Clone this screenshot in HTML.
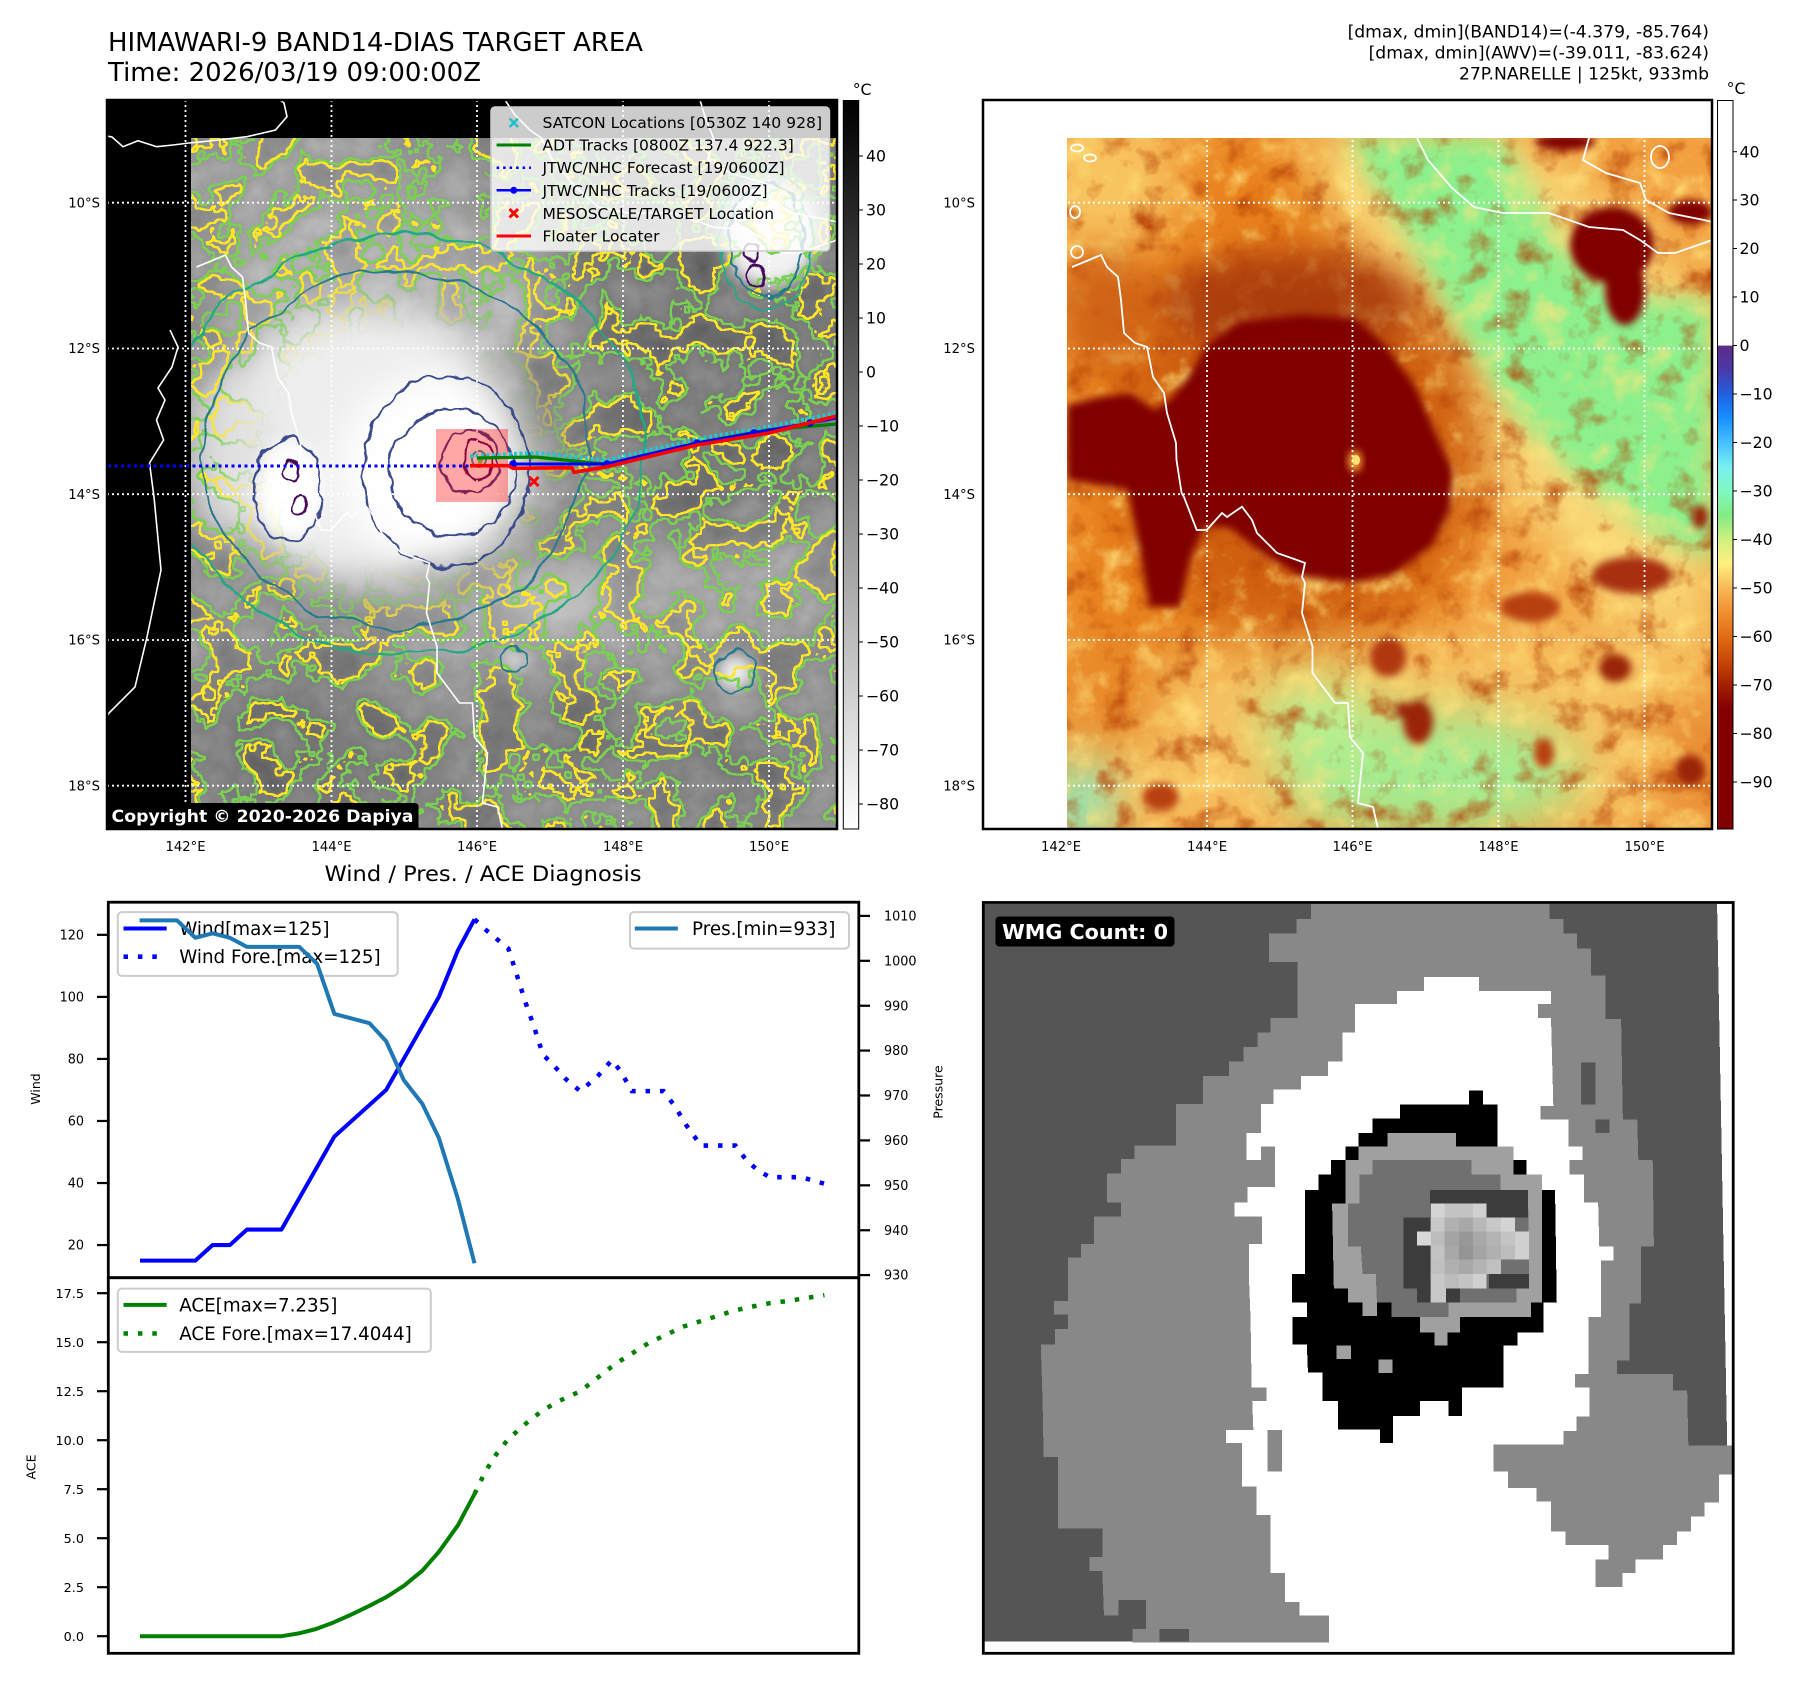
<!DOCTYPE html>
<html><head><meta charset="utf-8">
<style>
html,body{margin:0;padding:0;background:#fff;}
svg{display:block;}
text{font-family:"DejaVu Sans","Liberation Sans",sans-serif;}
</style></head><body>
<svg width="1801" height="1690" viewBox="0 0 1801 1690" xmlns="http://www.w3.org/2000/svg">
<defs>
<linearGradient id="gL" x1="0" y1="0" x2="0" y2="1"><stop offset="0" stop-color="#000"/><stop offset="1" stop-color="#fff"/></linearGradient>
<linearGradient id="gR" x1="0" y1="0" x2="0" y2="1">
<stop offset="0" stop-color="#ffffff"/><stop offset="0.336" stop-color="#ffffff"/>
<stop offset="0.3368" stop-color="#5e2a88"/><stop offset="0.37" stop-color="#4a3aa8"/>
<stop offset="0.4033" stop-color="#2060e0"/><stop offset="0.4366" stop-color="#1890ff"/>
<stop offset="0.47" stop-color="#48c0ff"/><stop offset="0.503" stop-color="#78f0f0"/>
<stop offset="0.5364" stop-color="#80f8c0"/><stop offset="0.5696" stop-color="#84ec84"/>
<stop offset="0.603" stop-color="#d0f080"/><stop offset="0.636" stop-color="#fff080"/>
<stop offset="0.669" stop-color="#f8b858"/><stop offset="0.703" stop-color="#f09030"/>
<stop offset="0.736" stop-color="#e06c14"/><stop offset="0.769" stop-color="#c84808"/>
<stop offset="0.802" stop-color="#a42000"/><stop offset="0.836" stop-color="#800000"/>
<stop offset="1" stop-color="#800000"/>
</linearGradient>
<clipPath id="cL"><rect x="107" y="100" width="730" height="729"/></clipPath>
<clipPath id="cLd"><rect x="191" y="138" width="646" height="691"/></clipPath>
<clipPath id="cR"><rect x="983" y="100" width="729" height="729"/></clipPath>
<clipPath id="cRd"><rect x="1067" y="138" width="645" height="691"/></clipPath>
<filter id="b4" x="-30%" y="-30%" width="160%" height="160%" color-interpolation-filters="sRGB"><feGaussianBlur stdDeviation="4"/></filter>
<filter id="b8" x="-30%" y="-30%" width="160%" height="160%" color-interpolation-filters="sRGB"><feGaussianBlur stdDeviation="8"/></filter>
<filter id="b12" x="-30%" y="-30%" width="160%" height="160%" color-interpolation-filters="sRGB"><feGaussianBlur stdDeviation="12"/></filter>
<filter id="b16" x="-40%" y="-40%" width="180%" height="180%" color-interpolation-filters="sRGB"><feGaussianBlur stdDeviation="16"/></filter>
<filter id="b20" x="-30%" y="-30%" width="160%" height="160%" color-interpolation-filters="sRGB"><feGaussianBlur stdDeviation="20"/></filter>
<filter id="b25" x="-30%" y="-30%" width="160%" height="160%" color-interpolation-filters="sRGB"><feGaussianBlur stdDeviation="25"/></filter>
<filter id="nz" filterUnits="userSpaceOnUse" x="191" y="138" width="646" height="691" color-interpolation-filters="sRGB">
<feTurbulence type="fractalNoise" baseFrequency="0.025" numOctaves="4" seed="11"/>
<feColorMatrix type="matrix" values="0.8 0 0 0 0.15  0.8 0 0 0 0.15  0.8 0 0 0 0.15  0 0 0 0 0.3"/>
</filter>
<filter id="cy" filterUnits="userSpaceOnUse" x="191" y="138" width="646" height="691" color-interpolation-filters="sRGB">
<feTurbulence type="fractalNoise" baseFrequency="0.025" numOctaves="4" seed="11" result="n"/>
<feColorMatrix in="n" type="matrix" values="0 0 0 0 0  0 0 0 0 0  0 0 0 0 0  1 0 0 0 0" result="a"/>
<feComponentTransfer in="a" result="th"><feFuncA type="discrete" tableValues="0 0 0 0 0 0 0 0 0 0 0 0 0 0 0 0 0 0 0 0 0 1 1 1 1 1 1 1 1 1 1 1 1 1 1 1 1 1 1 1 1 1 1 1 1 1 1 1 1 1"/></feComponentTransfer>
<feMorphology in="th" operator="dilate" radius="2" result="d"/>
<feComposite in="d" in2="th" operator="out" result="e"/>
<feFlood flood-color="#fde725"/>
<feComposite in2="e" operator="in"/>
</filter>
<filter id="cg" filterUnits="userSpaceOnUse" x="191" y="138" width="646" height="691" color-interpolation-filters="sRGB">
<feTurbulence type="fractalNoise" baseFrequency="0.025" numOctaves="4" seed="11" result="n"/>
<feColorMatrix in="n" type="matrix" values="0 0 0 0 0  0 0 0 0 0  0 0 0 0 0  1 0 0 0 0" result="a"/>
<feComponentTransfer in="a" result="th"><feFuncA type="discrete" tableValues="0 0 0 0 0 0 0 0 0 0 0 0 0 0 0 0 0 0 0 0 0 0 0 0 0 0 1 1 1 1 1 1 1 1 1 1 1 1 1 1 1 1 1 1 1 1 1 1 1 1"/></feComponentTransfer>
<feMorphology in="th" operator="dilate" radius="2" result="d"/>
<feComposite in="d" in2="th" operator="out" result="e"/>
<feFlood flood-color="#7ad151"/>
<feComposite in2="e" operator="in"/>
</filter>
<filter id="nzR" filterUnits="userSpaceOnUse" x="1067" y="138" width="645" height="691" color-interpolation-filters="sRGB">
<feTurbulence type="fractalNoise" baseFrequency="0.03" numOctaves="4" seed="5" result="n"/>
<feColorMatrix in="n" type="matrix" values="0 0 0 0 0.7  0 0 0 0 0.22  0 0 0 0 0  -2.2 0 0 0 1.0" result="dk"/>
<feColorMatrix in="n" type="matrix" values="0 0 0 0 1  0 0 0 0 0.9  0 0 0 0 0.5  2.2 0 0 0 -1.2" result="yl"/>
<feMerge><feMergeNode in="dk"/><feMergeNode in="yl"/></feMerge>
</filter>
<filter id="wig" filterUnits="userSpaceOnUse" x="100" y="90" width="760" height="760" color-interpolation-filters="sRGB">
<feTurbulence type="fractalNoise" baseFrequency="0.06" numOctaves="2" seed="4" result="t"/>
<feDisplacementMap in="SourceGraphic" in2="t" scale="12" xChannelSelector="R" yChannelSelector="G"/>
</filter>
<filter id="wig2" filterUnits="userSpaceOnUse" x="100" y="90" width="760" height="760" color-interpolation-filters="sRGB">
<feTurbulence type="fractalNoise" baseFrequency="0.02" numOctaves="3" seed="9" result="t"/>
<feDisplacementMap in="SourceGraphic" in2="t" scale="20" xChannelSelector="R" yChannelSelector="G"/>
</filter>
<mask id="mk" maskUnits="userSpaceOnUse" x="191" y="138" width="646" height="691">
<rect x="191" y="138" width="646" height="691" fill="#fff"/>
<ellipse cx="395" cy="450" rx="165" ry="155" fill="#000" filter="url(#b20)"/>
</mask>
</defs>

<rect x="0" y="0" width="1801" height="1690" fill="#fff"/>

<!-- Titles -->
<text x="108" y="51" font-size="25.8" textLength="535" lengthAdjust="spacingAndGlyphs">HIMAWARI-9 BAND14-DIAS TARGET AREA</text>
<text x="108" y="81" font-size="25.8" textLength="373" lengthAdjust="spacingAndGlyphs">Time: 2026/03/19 09:00:00Z</text>
<text x="1709" y="37.5" font-size="17.2" text-anchor="end">[dmax, dmin](BAND14)=(-4.379, -85.764)</text>
<text x="1709" y="58.5" font-size="17.2" text-anchor="end">[dmax, dmin](AWV)=(-39.011, -83.624)</text>
<text x="1709" y="79.5" font-size="17.2" text-anchor="end">27P.NARELLE | 125kt, 933mb</text>

<!-- ================= LEFT MAP ================= -->
<g clip-path="url(#cL)">
<rect x="107" y="100" width="730" height="729" fill="#000"/>
<g clip-path="url(#cLd)">
<rect x="191" y="138" width="646" height="691" fill="#8c8c8c"/>
<g filter="url(#b25)">
<ellipse cx="300" cy="190" rx="150" ry="70" fill="#a0a0a0"/>
<polygon points="590,130 850,130 850,580 700,580 610,440 570,260" fill="#6e6e6e"/>
<ellipse cx="385" cy="300" rx="170" ry="85" fill="#bebebe"/>
<polygon points="380,575 600,560 850,515 850,610 600,665 380,665" fill="#aaaaaa"/>
<ellipse cx="300" cy="748" rx="120" ry="75" fill="#6c6c6c"/>
<ellipse cx="440" cy="780" rx="60" ry="50" fill="#747474"/>
<ellipse cx="590" cy="735" rx="60" ry="40" fill="#686868"/>
<ellipse cx="725" cy="772" rx="75" ry="42" fill="#6c6c6c"/>
<ellipse cx="215" cy="640" rx="40" ry="50" fill="#9a9a9a"/>
</g>
<rect x="191" y="138" width="646" height="691" filter="url(#nz)"/>
<g filter="url(#b20)">
<ellipse cx="365" cy="445" rx="150" ry="140" fill="#eeeeee"/>
<ellipse cx="435" cy="470" rx="95" ry="95" fill="#ffffff"/>
<ellipse cx="228" cy="450" rx="40" ry="90" fill="#e0e0e0"/>
<ellipse cx="550" cy="600" rx="60" ry="22" fill="#c8c8c8"/>
</g>
<g filter="url(#b8)">
<ellipse cx="770" cy="232" rx="48" ry="55" fill="#f2f2f2"/>
<ellipse cx="290" cy="490" rx="32" ry="48" fill="#ffffff"/>
<circle cx="735" cy="672" r="18" fill="#f0f0f0"/>
<circle cx="513" cy="660" r="10" fill="#e8e8e8"/>
</g>
<g mask="url(#mk)">
<rect x="191" y="138" width="646" height="691" filter="url(#cg)"/>
<rect x="191" y="138" width="646" height="691" filter="url(#cy)"/>
</g>
<!-- storm contours -->
<g filter="url(#wig2)" fill="none" stroke-width="2.2">
<ellipse cx="405" cy="445" rx="240" ry="210" stroke="#22a884"/>
<ellipse cx="395" cy="450" rx="192" ry="178" stroke="#2a788e"/>
</g>
<g filter="url(#wig)" fill="none" stroke-width="2.2">
<ellipse cx="446" cy="471" rx="83" ry="96" stroke="#3b4a8a"/>
<ellipse cx="453" cy="473" rx="63" ry="63" stroke="#3b4a8a"/>
<ellipse cx="470" cy="462" rx="28" ry="32" stroke="#3b3a80"/>
<ellipse cx="478" cy="460" rx="14" ry="20" stroke="#46085c"/>
<ellipse cx="288" cy="490" rx="34" ry="52" stroke="#3b4a8a"/>
<ellipse cx="292" cy="472" rx="8" ry="8" stroke="#46085c"/>
<ellipse cx="300" cy="505" rx="6" ry="9" stroke="#46085c"/>
<ellipse cx="766" cy="240" rx="36" ry="58" stroke="#2a788e"/>
<ellipse cx="766" cy="240" rx="46" ry="70" stroke="#22a884"/>
<ellipse cx="752" cy="252" rx="9" ry="10" stroke="#46085c"/>
<ellipse cx="756" cy="276" rx="9" ry="12" stroke="#46085c"/>
<circle cx="735" cy="672" r="21" stroke="#2a788e"/>
<circle cx="513" cy="660" r="12" stroke="#2a788e"/>
</g>
<ellipse cx="479" cy="459" rx="7" ry="8" fill="none" stroke="#2a9d8a" stroke-width="2"/>
<ellipse cx="480" cy="460" rx="3" ry="4" fill="#7ad151"/>
</g>
<!-- coastlines -->
<g fill="none" stroke="#fff" stroke-width="1.6">
<polyline points="107,136 112,137 123,146.7 138,140.7 156.7,146.7 173,145 189,143 203,141.7 218,140 247,136.7 275.5,130 287,116.7 284,103 280,100"/>
<polyline points="170,330 178,347 172,367 158,388 165,400 156.5,420 163.6,440 149.5,463 154,497 161,570 147,637 135,687 109,713 107,716"/>
<polyline points="196.5,267 225.5,255 231.5,267 242.5,277 245.5,300 248.5,333 259.5,343 271.5,347 277.5,377 288.5,393 291.5,413 300.5,443 301,460 306,493 308.5,497 321,530 331,530 346.5,513 351.5,517 366.5,506.7 376.5,520 381.5,533 401.5,553 421.5,560 429.5,563 426.5,577 429.5,583 426.5,613 437,646.7 437,673 459.5,703 472.5,703 474.5,737 487.5,753 482.5,803 497.5,807 502.5,829"/>
<polyline points="505,100 515,115 530,130 541.5,138 552.5,160 575.5,187 598.5,207 627.5,213 673.5,213 713.5,227 747.5,230 764.5,240 782.5,253 799.5,253 828.5,243 837,240"/>
<polyline points="700,100 706,120 713.5,138 707.5,160 730.5,173 764.5,183 770.5,200 793.5,213 828.5,220 837,222"/>
</g>
<!-- gridlines -->
<g stroke="#fff" stroke-width="1.8" stroke-dasharray="2 3">
<line x1="185.5" y1="100" x2="185.5" y2="829"/><line x1="331.5" y1="100" x2="331.5" y2="829"/><line x1="477" y1="100" x2="477" y2="829"/><line x1="623" y1="100" x2="623" y2="829"/><line x1="769" y1="100" x2="769" y2="829"/>
<line x1="107" y1="202.7" x2="837" y2="202.7"/><line x1="107" y1="348.5" x2="837" y2="348.5"/><line x1="107" y1="494.2" x2="837" y2="494.2"/><line x1="107" y1="640" x2="837" y2="640"/><line x1="107" y1="785.7" x2="837" y2="785.7"/>
</g>
<!-- floater square -->
<rect x="436" y="429" width="72" height="73" fill="#ff0000" fill-opacity="0.35"/>
<!-- tracks -->
<line x1="108" y1="466" x2="482" y2="466" stroke="#0000ff" stroke-width="3" stroke-dasharray="3 3.5"/>
<polyline points="470,456 536,453 593,459 607,460 697,439 767,427 837,413" fill="none" stroke="#20c8d0" stroke-width="4" stroke-dasharray="3 2.5"/>
<polyline points="477,458 536,457 593,463 607,464 697,443 767,430 837,424" fill="none" stroke="#008000" stroke-width="3.2"/>
<polyline points="513,464 607,464 697,443 810,423 837,418" fill="none" stroke="#0000ff" stroke-width="3"/>
<g fill="#0000ff"><circle cx="513" cy="464" r="3.8"/><circle cx="607" cy="464" r="3.8"/><circle cx="697" cy="443" r="3.8"/><circle cx="754" cy="433" r="3.8"/><circle cx="810" cy="423" r="3.8"/></g>
<polyline points="470,465.7 508,465.7 513,468.3 572,467.7 574,472.3 607,466.7 697,445 767.7,433.3 837,416" fill="none" stroke="#ff0000" stroke-width="3.6"/>
<g stroke="#ff0000" stroke-width="3"><line x1="529.5" y1="477" x2="538.5" y2="486"/><line x1="538.5" y1="477" x2="529.5" y2="486"/></g>
<!-- legend -->
<rect x="491" y="107" width="338.5" height="144" rx="4" fill="#fff" fill-opacity="0.8" stroke="#cccccc" stroke-width="1.5"/>
<g stroke="#20c0c8" stroke-width="2.5"><line x1="509.5" y1="118.5" x2="518" y2="127"/><line x1="518" y1="118.5" x2="509.5" y2="127"/></g>
<line x1="496.6" y1="145" x2="531" y2="145" stroke="#008000" stroke-width="3"/>
<line x1="496.6" y1="167.7" x2="531" y2="167.7" stroke="#0000ff" stroke-width="2.5" stroke-dasharray="2.5 4"/>
<line x1="496.6" y1="190.3" x2="531" y2="190.3" stroke="#0000ff" stroke-width="2.5"/><circle cx="513.8" cy="190.3" r="3.5" fill="#0000ff"/>
<g stroke="#ff0000" stroke-width="3"><line x1="509.5" y1="209" x2="518" y2="217.5"/><line x1="518" y1="209" x2="509.5" y2="217.5"/></g>
<line x1="496.6" y1="236" x2="531" y2="236" stroke="#ff0000" stroke-width="3"/>
<g font-size="15.5" fill="#000">
<text x="542.5" y="128.2" textLength="279.6" lengthAdjust="spacingAndGlyphs">SATCON Locations [0530Z 140 928]</text>
<text x="542.5" y="150.5">ADT Tracks [0800Z 137.4 922.3]</text>
<text x="542.5" y="173.2">JTWC/NHC Forecast [19/0600Z]</text>
<text x="542.5" y="195.8">JTWC/NHC Tracks [19/0600Z]</text>
<text x="542.5" y="218.8">MESOSCALE/TARGET Location</text>
<text x="542.5" y="241.5">Floater Locater</text>
</g>
<!-- copyright -->
<path d="M107,803 H414.5 Q418.5,803 418.5,807 V830 H107 Z" fill="#000"/>
<text x="111.5" y="822" font-size="17" font-weight="bold" fill="#fff" textLength="302" lengthAdjust="spacingAndGlyphs">Copyright © 2020-2026 Dapiya</text>
</g>
<rect x="107" y="100" width="730" height="729" fill="none" stroke="#000" stroke-width="2.5"/>
<!-- left colorbar -->
<rect x="843.3" y="100.5" width="15.4" height="728.5" fill="url(#gL)" stroke="#000" stroke-width="1"/>
<text x="852.7" y="95" font-size="15.7">°C</text>
<g stroke="#000" stroke-width="1">
<line x1="858.7" y1="156" x2="863" y2="156"/><line x1="858.7" y1="210" x2="863" y2="210"/><line x1="858.7" y1="264" x2="863" y2="264"/><line x1="858.7" y1="318" x2="863" y2="318"/><line x1="858.7" y1="372" x2="863" y2="372"/><line x1="858.7" y1="426" x2="863" y2="426"/><line x1="858.7" y1="480" x2="863" y2="480"/><line x1="858.7" y1="534" x2="863" y2="534"/><line x1="858.7" y1="588" x2="863" y2="588"/><line x1="858.7" y1="642" x2="863" y2="642"/><line x1="858.7" y1="696" x2="863" y2="696"/><line x1="858.7" y1="750" x2="863" y2="750"/><line x1="858.7" y1="804" x2="863" y2="804"/>
</g>
<g font-size="15.7">
<text x="866" y="161.7">40</text><text x="866" y="215.7">30</text><text x="866" y="269.7">20</text><text x="866" y="323.7">10</text><text x="866" y="377.7">0</text>
<text x="866" y="431.7">−10</text><text x="866" y="485.7">−20</text><text x="866" y="539.7">−30</text><text x="866" y="593.7">−40</text><text x="866" y="647.7">−50</text><text x="866" y="701.7">−60</text><text x="866" y="755.7">−70</text><text x="866" y="809.7">−80</text>
</g>
<!-- left map labels -->
<g font-size="13.2" text-anchor="end">
<text x="100" y="207.4">10°S</text><text x="100" y="353.2">12°S</text><text x="100" y="498.9">14°S</text><text x="100" y="644.7">16°S</text><text x="100" y="790.4">18°S</text>
</g>
<g font-size="13.2" text-anchor="middle">
<text x="185.5" y="851">142°E</text><text x="331.5" y="851">144°E</text><text x="477" y="851">146°E</text><text x="623" y="851">148°E</text><text x="769" y="851">150°E</text>
</g>

<!-- ================= RIGHT MAP ================= -->
<g clip-path="url(#cRd)">
<rect x="1067" y="138" width="645" height="691" fill="#f2a040"/>
<g filter="url(#b25)">
<polygon points="1067,138 1330,138 1370,230 1420,300 1460,380 1480,500 1460,600 1380,650 1250,665 1150,650 1067,640" fill="#e8801c"/>
<ellipse cx="1110" cy="185" rx="75" ry="70" fill="#f8c460"/>
<polygon points="1290,138 1530,138 1712,300 1712,640 1600,600 1490,470 1420,340 1340,220" fill="#f8d878"/>
<polygon points="1067,660 1712,620 1712,829 1067,829" fill="#f6c060"/>
<ellipse cx="1430" cy="775" rx="150" ry="62" fill="#a4ec90"/>
<ellipse cx="1320" cy="720" rx="60" ry="40" fill="#b8f090"/>
<ellipse cx="1078" cy="805" rx="32" ry="45" fill="#80f0c8"/>
<ellipse cx="1110" cy="690" rx="50" ry="60" fill="#e88828"/>
<ellipse cx="1690" cy="760" rx="40" ry="70" fill="#e88a30"/>
<ellipse cx="1300" cy="445" rx="185" ry="190" fill="#d06010"/>
<ellipse cx="1290" cy="318" rx="110" ry="45" fill="#b04010"/>
</g>
<g filter="url(#b12)">
<polygon points="1345,138 1500,138 1530,190 1560,250 1640,300 1712,300 1712,560 1650,530 1570,470 1505,400 1455,320 1405,230" fill="#8cf08c"/>
</g>
<rect x="1067" y="138" width="645" height="691" filter="url(#nzR)"/>
<g filter="url(#b16)" opacity="0.75">
<ellipse cx="1285" cy="300" rx="130" ry="45" fill="#a83a0c"/>
<ellipse cx="1105" cy="310" rx="45" ry="60" fill="#c85a14"/>
</g>
<g filter="url(#b4)" fill="#800000">
<polygon points="1067,405 1100,397 1130,393 1155,410 1170,400 1190,375 1207,345 1240,322 1300,315 1354,318 1385,345 1417,390 1434,430 1452,470 1450,510 1432,545 1392,575 1352,582 1300,576 1262,553 1230,528 1205,525 1190,560 1180,607 1150,607 1138,540 1128,490 1067,480"/>
<ellipse cx="1612" cy="245" rx="42" ry="38"/>
<ellipse cx="1625" cy="290" rx="20" ry="35"/>
<ellipse cx="1565" cy="142" rx="30" ry="8"/>
<ellipse cx="1690" cy="212" rx="22" ry="12"/>
</g>
<g filter="url(#b4)" fill="#9a2408">
<ellipse cx="1615" cy="668" rx="16" ry="14"/>
<ellipse cx="1418" cy="722" rx="15" ry="22"/>
<ellipse cx="1403" cy="710" rx="8" ry="8"/>
<ellipse cx="1388" cy="657" rx="18" ry="20" fill="#b03810"/>
<ellipse cx="1690" cy="770" rx="15" ry="15"/>
<ellipse cx="1700" cy="517" rx="8" ry="12"/>
<ellipse cx="1632" cy="575" rx="40" ry="18" fill="#a83010"/>
<ellipse cx="1544" cy="753" rx="10" ry="15" fill="#b84010"/>
<ellipse cx="1530" cy="607" rx="30" ry="15" fill="#b84010"/>
<ellipse cx="1161" cy="797" rx="18" ry="14" fill="#b84010"/>
</g>
<ellipse cx="1355" cy="461" rx="7" ry="11" fill="#f0a030" filter="url(#b4)"/>
<ellipse cx="1356" cy="460" rx="4" ry="5" fill="#ffe070"/>
</g>
<g clip-path="url(#cR)" fill="none" stroke="#fff" stroke-width="1.8">
<polyline points="1072,267 1101,255 1107,267 1118,277 1121,300 1124,333 1135,343 1147,347 1153,377 1164,393 1167,413 1176,443 1176.5,460 1181.6,493 1184,497 1196.7,530 1206.7,530 1222,513 1227,517 1242,506.7 1252,520 1257,533 1277,553 1297,560 1305,563 1302,577 1305,583 1302,613 1312.5,646.7 1312.5,673 1335,703 1348,703 1350,737 1363,753 1358,803 1373,807 1378,829"/>
<polyline points="1417,138 1428,160 1451,187 1474,207 1503,213 1549,213 1589,227 1623,230 1640,240 1658,253 1675,253 1704,243 1712,240"/>
<polyline points="1589,138 1583,160 1606,173 1640,183 1646,200 1669,213 1704,220 1712,222"/>
<ellipse cx="1660" cy="157" rx="9" ry="11"/>
<ellipse cx="1077" cy="148" rx="6" ry="3.5"/><ellipse cx="1090" cy="158" rx="6" ry="3.5"/>
<ellipse cx="1075" cy="212" rx="5" ry="6"/><ellipse cx="1077" cy="252" rx="6" ry="6"/>
<g stroke-width="1.8" stroke-dasharray="2 3">
<line x1="1061" y1="100" x2="1061" y2="829"/><line x1="1207" y1="100" x2="1207" y2="829"/><line x1="1352.5" y1="100" x2="1352.5" y2="829"/><line x1="1498.5" y1="100" x2="1498.5" y2="829"/><line x1="1644.5" y1="100" x2="1644.5" y2="829"/>
<line x1="983" y1="202.7" x2="1712" y2="202.7"/><line x1="983" y1="348.5" x2="1712" y2="348.5"/><line x1="983" y1="494.2" x2="1712" y2="494.2"/><line x1="983" y1="640" x2="1712" y2="640"/><line x1="983" y1="785.7" x2="1712" y2="785.7"/>
</g>
</g>
<rect x="983" y="100" width="729" height="729" fill="none" stroke="#000" stroke-width="2.5"/>
<!-- right colorbar -->
<rect x="1717.5" y="100.5" width="15.5" height="728.5" fill="url(#gR)" stroke="#000" stroke-width="1"/>
<text x="1726.6" y="94" font-size="15.7">°C</text>
<g stroke="#000" stroke-width="1">
<line x1="1733" y1="151.7" x2="1737" y2="151.7"/><line x1="1733" y1="200" x2="1737" y2="200"/><line x1="1733" y1="248.5" x2="1737" y2="248.5"/><line x1="1733" y1="297" x2="1737" y2="297"/><line x1="1733" y1="345.5" x2="1737" y2="345.5"/><line x1="1733" y1="394" x2="1737" y2="394"/><line x1="1733" y1="442.5" x2="1737" y2="442.5"/><line x1="1733" y1="491" x2="1737" y2="491"/><line x1="1733" y1="539.5" x2="1737" y2="539.5"/><line x1="1733" y1="588" x2="1737" y2="588"/><line x1="1733" y1="636.5" x2="1737" y2="636.5"/><line x1="1733" y1="685" x2="1737" y2="685"/><line x1="1733" y1="733.5" x2="1737" y2="733.5"/><line x1="1733" y1="782" x2="1737" y2="782"/>
</g>
<g font-size="15.7">
<text x="1739.5" y="157.4">40</text><text x="1739.5" y="205.7">30</text><text x="1739.5" y="254.2">20</text><text x="1739.5" y="302.7">10</text><text x="1739.5" y="351.2">0</text>
<text x="1739.5" y="399.7">−10</text><text x="1739.5" y="448.2">−20</text><text x="1739.5" y="496.7">−30</text><text x="1739.5" y="545.2">−40</text><text x="1739.5" y="593.7">−50</text><text x="1739.5" y="642.2">−60</text><text x="1739.5" y="690.7">−70</text><text x="1739.5" y="739.2">−80</text><text x="1739.5" y="787.7">−90</text>
</g>
<g font-size="13.2" text-anchor="end">
<text x="975" y="207.4">10°S</text><text x="975" y="353.2">12°S</text><text x="975" y="498.9">14°S</text><text x="975" y="644.7">16°S</text><text x="975" y="790.4">18°S</text>
</g>
<g font-size="13.2" text-anchor="middle">
<text x="1061" y="851">142°E</text><text x="1207" y="851">144°E</text><text x="1352.5" y="851">146°E</text><text x="1498.5" y="851">148°E</text><text x="1644.5" y="851">150°E</text>
</g>

<!-- ================= WIND / PRES / ACE ================= -->
<text x="483" y="881" font-size="21.4" text-anchor="middle" textLength="317" lengthAdjust="spacingAndGlyphs">Wind / Pres. / ACE Diagnosis</text>
<g transform="matrix(1 0 0 1.00724 0 -9.25)">
<rect x="117.8" y="914.8" width="279.8" height="63.2" rx="4" fill="#fff" fill-opacity="0.8" stroke="#cccccc" stroke-width="2"/>
<line x1="123.5" y1="931" x2="166.6" y2="931" stroke="#0000ff" stroke-width="4"/>
<line x1="123.5" y1="959" x2="166.6" y2="959" stroke="#0000ff" stroke-width="4.5" stroke-dasharray="4.5 9.9"/>
<text x="179.2" y="937.5" font-size="18.3">Wind[max=125]</text>
<text x="179.2" y="965.5" font-size="18.3">Wind Fore.[max=125]</text>
<polyline points="140,1260.7 195.3,1260.7 212.6,1245.3 229.8,1245.3 247,1229.9 281.5,1229.9 334.4,1137.5 386.1,1091.3 438.9,998.9 457.9,952.7 474.5,921.9" fill="none" stroke="#0000ff" stroke-width="4" stroke-linejoin="round"/>
<polyline points="474.5,921.9 485.5,932.1 495.2,940.2 508.4,951 517.1,978 525.7,1005 534.3,1029.3 542.9,1056.3 551.5,1064.4 565.9,1080.6 580.2,1092.5 597.5,1077.9 611.8,1061.7 620.5,1072.5 631.9,1092.5 663.5,1092.5 675,1107.6 686.5,1126.6 700.9,1146.5 735.4,1146.5 746.9,1161.7 758.3,1171.4 769.8,1177.9 801.4,1177.9 824.4,1184.4" fill="none" stroke="#0000ff" stroke-width="4.5" stroke-dasharray="4.5 9.9"/>
<polyline points="139.6,922.9 176.9,922.9 195.3,940.2 212.6,935.8 229.8,940.2 247,949.3 299.3,949.3 317.1,966.1 334.4,1015.8 369.4,1025 386.1,1042.8 403.9,1081.7 422.3,1105 438.9,1139 457.9,1199.5 474.5,1263.3" fill="none" stroke="#1f77b4" stroke-width="4" stroke-linejoin="round"/>
<rect x="630" y="914.8" width="219" height="36.2" rx="4" fill="#fff" fill-opacity="0.8" stroke="#cccccc" stroke-width="2"/>
<line x1="634.8" y1="931" x2="677.9" y2="931" stroke="#1f77b4" stroke-width="4"/>
<text x="692" y="937.5" font-size="18.3">Pres.[min=933]</text>
<g stroke="#000" stroke-width="2.2">
<line x1="97" y1="937.3" x2="108.3" y2="937.3"/><line x1="97" y1="998.9" x2="108.3" y2="998.9"/><line x1="97" y1="1060.5" x2="108.3" y2="1060.5"/><line x1="97" y1="1122.1" x2="108.3" y2="1122.1"/><line x1="97" y1="1183.7" x2="108.3" y2="1183.7"/><line x1="97" y1="1245.3" x2="108.3" y2="1245.3"/>
<line x1="858.8" y1="918.5" x2="870" y2="918.5"/><line x1="858.8" y1="963.1" x2="870" y2="963.1"/><line x1="858.8" y1="1007.7" x2="870" y2="1007.7"/><line x1="858.8" y1="1052.2" x2="870" y2="1052.2"/><line x1="858.8" y1="1096.8" x2="870" y2="1096.8"/><line x1="858.8" y1="1141.4" x2="870" y2="1141.4"/><line x1="858.8" y1="1186" x2="870" y2="1186"/><line x1="858.8" y1="1230.6" x2="870" y2="1230.6"/><line x1="858.8" y1="1275.1" x2="870" y2="1275.1"/>
</g>
<g font-size="12.8" text-anchor="end">
<text x="84" y="941.9">120</text><text x="84" y="1003.5">100</text><text x="84" y="1065.1">80</text><text x="84" y="1126.7">60</text><text x="84" y="1188.3">40</text><text x="84" y="1249.9">20</text>
</g>
<g font-size="12.8">
<text x="884" y="923.1">1010</text><text x="884" y="967.7">1000</text><text x="884" y="1012.3">990</text><text x="884" y="1056.8">980</text><text x="884" y="1101.4">970</text><text x="884" y="1146">960</text><text x="884" y="1190.6">950</text><text x="884" y="1235.2">940</text><text x="884" y="1279.7">930</text>
</g>
</g>
<!-- ACE -->
<polyline points="140,1636.2 281.5,1636.2 298.7,1633.4 316,1629 333.2,1622.6 351.6,1614.4 369.4,1605.8 386.1,1597.2 403.9,1585.8 422.3,1570.7 438.9,1551.8 457.9,1525.3 474.5,1494" fill="none" stroke="#008000" stroke-width="4" stroke-linejoin="round"/>
<polyline points="474.5,1494 485.5,1471.3 496.9,1453.4 508.4,1438.9 525.7,1423.7 542.9,1410.2 560.1,1400.5 580.2,1391.3 597.5,1377.8 614.7,1364.3 631.9,1353.5 649.2,1342.7 666.4,1334.6 683.7,1326.5 700.9,1321.1 718.1,1315.7 735.4,1310.3 752.6,1306.5 769.8,1303.2 787.1,1301.1 804.3,1298.4 824.4,1295.1" fill="none" stroke="#008000" stroke-width="4.5" stroke-dasharray="4.5 9.9"/>
<rect x="117.8" y="1288.6" width="313" height="63.3" rx="4" fill="#fff" fill-opacity="0.8" stroke="#cccccc" stroke-width="2"/>
<line x1="123.5" y1="1304.9" x2="166.6" y2="1304.9" stroke="#008000" stroke-width="4"/>
<line x1="123.5" y1="1333.5" x2="166.6" y2="1333.5" stroke="#008000" stroke-width="4.5" stroke-dasharray="4.5 9.9"/>
<text x="179.2" y="1311.4" font-size="18.3">ACE[max=7.235]</text>
<text x="179.2" y="1340" font-size="18.3">ACE Fore.[max=17.4044]</text>
<!-- frames -->
<rect x="108.3" y="902.2" width="750.5" height="375.5" fill="none" stroke="#000" stroke-width="2.8"/>
<rect x="108.3" y="1277.7" width="750.5" height="375.6" fill="none" stroke="#000" stroke-width="2.8"/>
<g stroke="#000" stroke-width="2.2">
<line x1="97" y1="1636.2" x2="108.3" y2="1636.2"/><line x1="97" y1="1587.2" x2="108.3" y2="1587.2"/><line x1="97" y1="1538.2" x2="108.3" y2="1538.2"/><line x1="97" y1="1489.2" x2="108.3" y2="1489.2"/><line x1="97" y1="1440.2" x2="108.3" y2="1440.2"/><line x1="97" y1="1391.2" x2="108.3" y2="1391.2"/><line x1="97" y1="1342.2" x2="108.3" y2="1342.2"/><line x1="97" y1="1293.2" x2="108.3" y2="1293.2"/>
</g>
<g font-size="12.8" text-anchor="end">
<text x="84" y="1640.8">0.0</text><text x="84" y="1591.8">2.5</text><text x="84" y="1542.8">5.0</text><text x="84" y="1493.8">7.5</text><text x="84" y="1444.8">10.0</text><text x="84" y="1395.8">12.5</text><text x="84" y="1346.8">15.0</text><text x="84" y="1297.8">17.5</text>
</g>
<text font-size="12.5" text-anchor="middle" transform="translate(40 1089) rotate(-90)">Wind</text>
<text font-size="12.5" text-anchor="middle" transform="translate(35.5 1467) rotate(-90)">ACE</text>
<text font-size="12.5" text-anchor="middle" transform="translate(942.5 1092) rotate(-90)">Pressure</text>

<!-- ================= WMG PANEL ================= -->
<g transform="matrix(0.5746 0 0 0.5421 900 840.16)" shape-rendering="crispEdges">
<polygon points="147,118 1422,118 1446,1478 147,1478" fill="#555555"/>
<polygon fill="#888888" points="405,1480 405,1455 428,1455 428,1402 380,1402 380,1430 355,1430 352,1348 330,1348 330,1322 352,1322 352,1270 275,1270 275,1138 250,1138 248,1030 245,930 270,930 270,902 292,902 292,875 268,875 268,850 292,850 292,770 315,770 315,745 338,745 338,694 385,694 385,668 360,668 360,615 385,615 385,588 408,588 408,563 480,563 480,487 527,487 527,435 573,435 573,408 598,408 598,382 622,382 622,355 645,355 645,328 692,328 692,225 642,225 642,172 690,172 690,145 715,145 715,118 1130,118 1130,145 1155,145 1155,172 1178,172 1178,200 1203,200 1203,250 1228,250 1228,330 1255,330 1258,515 1283,515 1285,590 1310,590 1312,750 1290,750 1290,855 1270,855 1270,960 1320,960 1320,985 1345,985 1345,1015 1370,1015 1372,1117 1448,1117 1448,1170 1425,1170 1425,1222 1400,1222 1400,1248 1377,1248 1377,1275 1352,1275 1352,1300 1328,1300 1328,1327 1280,1327 1280,1352 1257,1352 1257,1378 1210,1378 747,1480"/>
<rect x="1185" y="410" width="25" height="78" fill="#555555"/>
<rect x="1210" y="515" width="25" height="25" fill="#555555"/>
<rect x="1248" y="960" width="74" height="25" fill="#555555"/>
<rect x="452" y="1455" width="51" height="23" fill="#555555"/>
<polygon fill="#ffffff" points="747,1480 747,1430 695,1430 695,1405 670,1405 670,1352 645,1352 645,1245 620,1245 620,1192 595,1192 595,1112 567,1112 567,1088 615,1088 613,1035 638,1035 638,1010 612,1010 610,880 607,800 607,745 630,745 630,694 582,694 582,668 605,668 605,640 653,640 653,565 628,565 628,590 603,590 603,540 628,540 628,487 650,487 650,460 698,460 698,435 745,435 745,408 770,408 770,355 792,355 792,302 865,302 865,278 912,278 912,252 1008,252 1008,278 1133,278 1133,302 1110,302 1110,328 1133,328 1137,490 1115,490 1115,515 1163,515 1163,565 1188,565 1188,590 1165,590 1165,617 1190,617 1190,668 1215,668 1217,750 1242,750 1242,775 1220,775 1220,880 1198,880 1198,985 1175,985 1175,1010 1200,1010 1200,1063 1177,1063 1177,1090 1155,1090 1155,1115 1033,1115 1033,1165 1058,1165 1058,1195 1108,1195 1108,1220 1133,1220 1133,1275 1158,1275 1158,1300 1233,1300 1233,1327 1210,1327 1210,1378 1257,1378 1257,1352 1280,1352 1280,1327 1328,1327 1328,1300 1352,1300 1352,1275 1377,1275 1377,1248 1400,1248 1400,1222 1425,1222 1425,1170 1450,1170 1450,1500 747,1500"/>
<rect x="640" y="1088" width="25" height="77" fill="#888888"/>
<polygon fill="#000000" points="990,462 1015,462 1015,488 1040,488 1040,565 1065,565 1065,590 1090,590 1090,617 1115,617 1115,645 1140,645 1143,853 1120,853 1120,908 1075,908 1075,932 1050,932 1050,1010 978,1010 978,1062 955,1062 955,1035 905,1035 905,1062 858,1062 858,1112 835,1112 835,1087 762,1087 762,1035 735,1035 735,982 710,982 708,930 683,930 683,880 708,880 708,853 682,853 682,800 705,800 705,645 728,645 728,617 750,617 750,590 775,590 775,565 798,565 798,540 822,540 822,513 870,513 870,488 990,488"/>
<rect x="760" y="932" width="25" height="25" fill="#a0a0a0"/>
<rect x="833" y="958" width="24" height="25" fill="#a0a0a0"/>
<rect x="1043" y="565" width="25" height="25" fill="#a0a0a0"/>
<polygon fill="#a0a0a0" points="848,540 968,540 968,565 1043,565 1043,590 1068,590 1068,617 1117,617 1117,853 1098,853 1098,880 975,880 975,908 953,908 953,932 930,932 930,908 905,908 905,880 855,880 855,853 830,853 830,878 805,878 805,853 780,853 780,827 755,827 752,670 775,670 775,590 798,590 798,565 848,565"/>
<polygon fill="#707070" points="822,590 995,590 995,617 1045,617 1045,645 1093,645 1095,827 1073,827 1073,853 955,853 955,880 855,880 855,853 830,853 828,800 805,800 802,750 780,750 780,670 800,670 800,617 822,617"/>
<g fill="#3c3c3c">
<rect x="922" y="645" width="171" height="25"/>
<rect x="1020" y="670" width="73" height="26"/>
<rect x="876" y="696" width="46" height="131"/>
<rect x="900" y="827" width="22" height="26"/>
<rect x="1025" y="800" width="70" height="27"/>
<rect x="950" y="827" width="25" height="26"/>
</g>
<g>
<rect x="924" y="670" width="24" height="26" fill="#d4d4d4"/><rect x="948" y="670" width="25" height="26" fill="#c4c4c4"/><rect x="973" y="670" width="24" height="26" fill="#c4c4c4"/><rect x="997" y="670" width="24" height="26" fill="#d0d0d0"/>
<rect x="924" y="696" width="24" height="26" fill="#c8c8c8"/><rect x="948" y="696" width="25" height="26" fill="#b0b0b0"/><rect x="973" y="696" width="24" height="26" fill="#a8a8a8"/><rect x="997" y="696" width="24" height="26" fill="#b8b8b8"/><rect x="1021" y="696" width="25" height="26" fill="#c8c8c8"/><rect x="1046" y="696" width="24" height="26" fill="#d4d4d4"/>
<rect x="900" y="722" width="24" height="26" fill="#d8d8d8"/><rect x="924" y="722" width="24" height="26" fill="#bcbcbc"/><rect x="948" y="722" width="25" height="26" fill="#a4a4a4"/><rect x="973" y="722" width="24" height="26" fill="#989898"/><rect x="997" y="722" width="24" height="26" fill="#a8a8a8"/><rect x="1021" y="722" width="25" height="26" fill="#b4b4b4"/><rect x="1046" y="722" width="24" height="26" fill="#c4c4c4"/><rect x="1070" y="722" width="25" height="26" fill="#d0d0d0"/>
<rect x="924" y="748" width="24" height="26" fill="#c4c4c4"/><rect x="948" y="748" width="25" height="26" fill="#a8a8a8"/><rect x="973" y="748" width="24" height="26" fill="#949494"/><rect x="997" y="748" width="24" height="26" fill="#a4a4a4"/><rect x="1021" y="748" width="25" height="26" fill="#b0b0b0"/><rect x="1046" y="748" width="24" height="26" fill="#bcbcbc"/><rect x="1070" y="748" width="25" height="26" fill="#d0d0d0"/>
<rect x="924" y="774" width="24" height="26" fill="#c0c0c0"/><rect x="948" y="774" width="25" height="26" fill="#b0b0b0"/><rect x="973" y="774" width="24" height="26" fill="#a8a8a8"/><rect x="997" y="774" width="24" height="26" fill="#b4b4b4"/><rect x="1021" y="774" width="25" height="26" fill="#c0c0c0"/>
<rect x="924" y="800" width="24" height="27" fill="#c8c8c8"/><rect x="948" y="800" width="25" height="27" fill="#bcbcbc"/><rect x="973" y="800" width="24" height="27" fill="#c4c4c4"/><rect x="997" y="800" width="24" height="27" fill="#d0d0d0"/>
<rect x="924" y="827" width="26" height="26" fill="#c8c8c8"/>
</g>
</g>
<rect x="983.3" y="902.5" width="749.9" height="750.8" fill="none" stroke="#000" stroke-width="2.8"/>
<rect x="995.5" y="916.5" width="179" height="30" rx="4" fill="#000"/>
<text x="1002" y="939" font-size="20" font-weight="bold" fill="#fff" textLength="166" lengthAdjust="spacingAndGlyphs">WMG Count: 0</text>
</svg>
</body></html>
